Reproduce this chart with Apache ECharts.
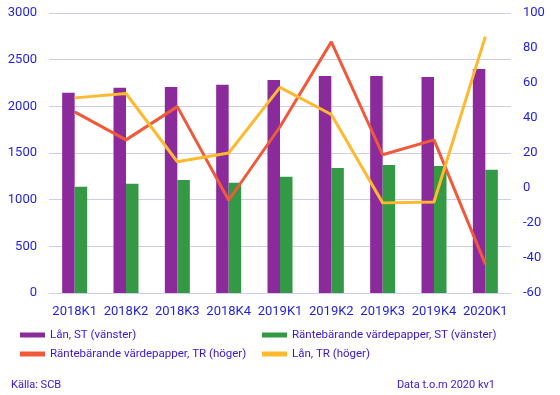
<!DOCTYPE html>
<html><head><meta charset="utf-8">
<script src="https://cdn.jsdelivr.net/npm/echarts@6/dist/echarts.min.js"></script>
<style>html,body{margin:0;padding:0;background:#fff}#c{width:560px;height:395px}</style>
</head><body><div id="c"></div>
<script>
const categories = ['2018K1','2018K2','2018K3','2018K4','2019K1','2019K2','2019K3','2019K4','2020K1'];
const lanST = [2145, 2198, 2208, 2230, 2283, 2325, 2325, 2315, 2400];
const rvpST = [1138, 1170, 1210, 1180, 1245, 1340, 1372, 1360, 1320];
const rvpTR = [43.5, 27.5, 46.5, -7, 35, 83.5, 19, 27.5, -43.5];
const lanTR = [51.5, 54, 15, 20, 57.5, 42, -8.5, -8, 86.5];
const leftTicks = [0, 3000, 500];
const rightTicks = [-60, 100, 20];

const txt = '#1E1EE6';
const font = 'Roboto';
const chart = echarts.init(document.getElementById('c'), null, {renderer:'canvas'});
const legendBase = {itemWidth:25, itemHeight:5, icon:'rect', textStyle:{color:'#3a14d6', fontSize:11.5, fontFamily:font}, itemGap:0, padding:0};
chart.setOption({
  animation:false,
  textStyle:{fontFamily:font},
  grid:{left:49, right:49, top:13, bottom:102},
  xAxis:{type:'category', data:categories,
    axisLine:{lineStyle:{color:'#D0CCEE'}}, axisTick:{show:false},
    axisLabel:{color:txt, fontSize:13, fontFamily:font, margin:12, interval:0}},
  yAxis:[
    {type:'value', min:leftTicks[0], max:leftTicks[1], interval:leftTicks[2],
     axisLabel:{color:txt, fontSize:13, fontFamily:font, margin:12, formatter:v=>String(v)},
     splitLine:{lineStyle:{color:'#D0CCEE'}}, axisLine:{show:false}},
    {type:'value', min:rightTicks[0], max:rightTicks[1], interval:rightTicks[2],
     axisLabel:{color:txt, fontSize:13, fontFamily:font, margin:12, formatter:v=>String(v)},
     splitLine:{show:false}, axisLine:{show:false}}
  ],
  legend:[
    Object.assign({left:20, top:329, data:['Lån, ST (vänster)']}, legendBase),
    Object.assign({left:262, top:329, data:['Räntebärande värdepapper, ST (vänster)']}, legendBase),
    Object.assign({left:20, top:348, data:['Räntebärande värdepapper, TR (höger)']}, legendBase),
    Object.assign({left:262, top:348, data:['Lån, TR (höger)']}, legendBase)
  ],
  graphic:[
    {type:'text', left:11, top:380, style:{text:'Källa: SCB', fill:'#3a14d6', font:'11px Roboto'}},
    {type:'text', right:65, top:380, style:{text:'Data t.o.m 2020 kv1', fill:'#3a14d6', font:'11px Roboto'}}
  ],
  series:[
    {name:'Lån, ST (vänster)', type:'bar', data:lanST, barWidth:12.5, barGap:'0%', itemStyle:{color:'#8B2A9B'}},
    {name:'Räntebärande värdepapper, ST (vänster)', type:'bar', data:rvpST, barWidth:12.5, barGap:'0%', itemStyle:{color:'#339944'}},
    {name:'Räntebärande värdepapper, TR (höger)', type:'line', yAxisIndex:1, data:rvpTR, symbol:'none', lineStyle:{color:'#F05A3A', width:3}, itemStyle:{color:'#F05A3A'}},
    {name:'Lån, TR (höger)', type:'line', yAxisIndex:1, data:lanTR, symbol:'none', lineStyle:{color:'#FFB92F', width:3}, itemStyle:{color:'#FFB92F'}}
  ]
});
</script></body></html>
